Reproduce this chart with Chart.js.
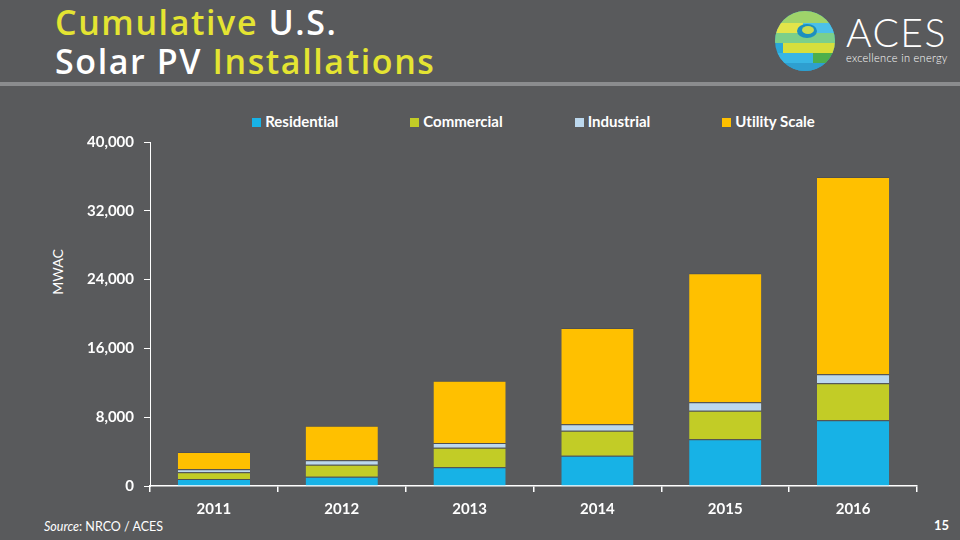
<!DOCTYPE html>
<html>
<head>
<meta charset="utf-8">
<script src="https://cdn.jsdelivr.net/npm/chart.js@4.4.1/dist/chart.umd.min.js"></script>
<style>
    html, body { margin: 0; padding: 0; }
    body { width: 960px; height: 540px; background: #595a5c; position: relative; overflow: hidden; font-family: Lato, sans-serif; font-variant-ligatures: none; }
    #wrap { position: absolute; left: 0; top: 0; width: 960px; height: 540px; }
    .title { position: absolute; left: 55px; top: 3px; font-family: 'Open Sans', sans-serif; font-size: 34px; font-weight: 600; line-height: 39px; letter-spacing: 1.6px; color: #fff; }
    .title .hl { color: #e4e432; }
    .rule { position: absolute; left: 0; top: 82px; width: 960px; height: 4px; background: #8b8c8e; }
    #legend { position: absolute; top: 112px; display: flex; justify-content: center; gap: 72px; font-size: 15px; font-weight: 700; color: #fff; }
    #legend span.box { display: inline-block; width: 9px; height: 9px; margin-right: 4px; }
    .ylabel { position: absolute; left: 57px; top: 272px; transform: translate(-50%, -50%) rotate(-90deg); font-size: 14px; color: #fff; }
    .source { position: absolute; left: 44px; top: 519px; font-size: 12.5px; color: #fff; }
    .page { position: absolute; left: 934px; top: 517px; font-size: 13px; font-weight: 700; color: #fff; }
    .logo-text { position: absolute; left: 846px; top: 9px; color: #fff; }
    .logo-text .big { font-size: 39px; font-weight: 300; line-height: 46px; letter-spacing: 1.5px; }
    .logo-text .small { font-size: 11px; font-weight: 300; margin-top: -4px; letter-spacing: 0.3px; }
</style>
</head>
<body>
<div class="title"><span class="hl">Cumulative</span> U.S.<br>Solar PV <span class="hl">Installations</span></div>
<div class="rule"></div>
<svg style="position:absolute;left:773px;top:9px" width="64" height="64" viewBox="0 0 64 64">
    <defs><clipPath id="c"><circle cx="32" cy="32" r="30"/></clipPath></defs>
    <g clip-path="url(#c)">
        <rect x="0" y="0" width="64" height="64" fill="#2aa7d8"/>
        <rect x="0" y="0" width="64" height="14" fill="#9fd36a"/>
        <rect x="0" y="14" width="30" height="10" fill="#e2e44a"/>
        <rect x="30" y="14" width="34" height="10" fill="#4cc0e8"/>
        <rect x="0" y="24" width="64" height="10" fill="#7ccf8a"/>
        <rect x="10" y="34" width="54" height="10" fill="#d6df3c"/>
        <rect x="0" y="44" width="40" height="10" fill="#38b6e4"/>
        <rect x="40" y="44" width="24" height="10" fill="#4caf4c"/>
        <rect x="0" y="54" width="64" height="10" fill="#2e9fd0"/>
        <ellipse cx="34" cy="22" rx="10" ry="7" fill="#1c8fbf"/>
        <ellipse cx="35" cy="21" rx="6" ry="4" fill="#c8dc50"/>
    </g>
</svg>
<div class="logo-text"><div class="big">ACES</div><div class="small">excellence in energy</div></div>
<div class="ylabel">MWAC</div>
<div class="source"><i>Source</i>: NRCO / ACES</div>
<div class="page">15</div>
<div id="legend"></div>
<div id="wrap"><canvas id="solar-chart"></canvas></div>
<script>
const years = ['2011', '2012', '2013', '2014', '2015', '2016'];
const residential = [800, 1080, 2170, 3530, 5430, 7640];
const commercial = [790, 1400, 2280, 2900, 3330, 4300];
const industrial = [350, 510, 550, 740, 970, 1050];
const utility = [2010, 4020, 7240, 11200, 15000, 22940];
const y_ticks = [0, 8000, 16000, 24000, 32000, 40000];

const tick_font = { family: 'Lato', size: 15, weight: '700' };

(function () {
    const canvas = document.getElementById('solar-chart');

    const make_set = (label, values, color) => ({
        label: label,
        data: values,
        backgroundColor: color,
        borderColor: '#4f5052',
        borderWidth: { top: 1, left: 0, right: 0, bottom: 0 },
        borderSkipped: 'bottom',
        categoryPercentage: 0.565,
        barPercentage: 1,
    });

    const data = {
        labels: years,
        datasets: [
            make_set('Residential', residential, '#17b2e6'),
            make_set('Commercial', commercial, '#c2cc26'),
            make_set('Industrial', industrial, '#bcd8ee'),
            make_set('Utility Scale', utility, '#ffc000'),
        ]
    };

    const config = {
        type: 'bar',
        data: data,
        options: {
            responsive: true,
            maintainAspectRatio: false,
            animation: false,
            layout: { padding: { top: 142, right: 43, bottom: 14, left: 0 } },
            plugins: {
                legend: { display: false },
                tooltip: { enabled: false },
            },
            scales: {
                x: {
                    stacked: true,
                    border: { color: '#ffffff', width: 1.5 },
                    grid: { display: true, offset: true, drawOnChartArea: false, color: '#ffffff', tickLength: 6, lineWidth: 1.5 },
                    ticks: { color: '#ffffff', font: tick_font, padding: 8 },
                },
                y: {
                    stacked: true,
                    min: 0,
                    max: 40000,
                    afterFit: (scale) => { scale.width = 150; },
                    afterBuildTicks: (scale) => { scale.ticks = y_ticks.map(v => ({ value: v })); },
                    border: { color: '#ffffff', width: 1 },
                    grid: { display: true, drawOnChartArea: false, color: '#ffffff', tickLength: 6 },
                    ticks: {
                        color: '#ffffff',
                        font: tick_font,
                        padding: 10,
                        callback: (v) => Number(v).toLocaleString('en-US'),
                    },
                },
            },
        },
    };

    const chart = new Chart(canvas, config);

    // legend built from the datasets, centred over the plot area
    const legend = document.getElementById('legend');
    legend.style.left = chart.chartArea.left + 'px';
    legend.style.width = (chart.chartArea.right - chart.chartArea.left) + 'px';
    legend.innerHTML = chart.data.datasets.map(ds =>
        `<div><span class="box" style="background:${ds.backgroundColor}"></span>${ds.label}</div>`
    ).join('');
})();
</script>
</body>
</html>
